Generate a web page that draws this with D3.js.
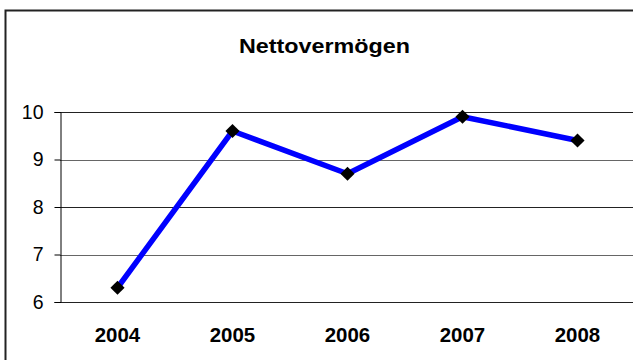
<!DOCTYPE html>
<html>
<head>
<meta charset="utf-8">
<script src="https://cdn.jsdelivr.net/npm/d3@7"></script>
<style>
  html, body { margin: 0; padding: 0; background: #fff; }
  svg { display: block; font-family: "Liberation Sans", Arial, sans-serif; }
</style>
</head>
<body>
<svg id="chart" width="633" height="360"></svg>
<script>
// Net worth per year
const years = ["2004", "2005", "2006", "2007", "2008"];
const values = [6.3, 9.6, 8.7, 9.9, 9.4];
const yTicks = [6, 7, 8, 9, 10];
const title = "Nettovermögen";

const svg = d3.select("#chart");

// outer chart frame (runs past the right and bottom edges)
svg.append("rect")
  .attr("x", 5.5).attr("y", 10.5)
  .attr("width", 700).attr("height", 400)
  .attr("fill", "#fff")
  .attr("stroke", "#222")
  .attr("stroke-width", 2);

const plot = { left: 60, right: 635, top: 112, bottom: 302 };

const x = d3.scaleBand().domain(years).range([plot.left, plot.right]).padding(0);
const y = d3.scaleLinear().domain([6, 10]).range([plot.bottom, plot.top]);

// title, slightly widened glyphs
svg.append("text")
  .attr("x", 239).attr("y", 52.7)
  .attr("font-size", 20.5)
  .attr("font-weight", "bold")
  .attr("textLength", 171)
  .attr("lengthAdjust", "spacingAndGlyphs")
  .text(title);

// horizontal gridlines
svg.append("g")
  .selectAll("line")
  .data(yTicks)
  .join("line")
  .attr("x1", plot.left).attr("x2", plot.right)
  .attr("y1", d => Math.round(y(d)) + 0.5)
  .attr("y2", d => Math.round(y(d)) + 0.5)
  .attr("stroke", (d, i) => i % 2 ? "#666" : "#222")
  .attr("stroke-width", 1);

// y axis
const yAxis = svg.append("g")
  .attr("transform", `translate(${plot.left + 0.5},0)`)
  .call(d3.axisLeft(y).tickValues(yTicks).tickSize(6).tickPadding(11).tickFormat(d3.format("d")));
yAxis.select(".domain").attr("stroke", "#000");
yAxis.selectAll(".tick line").attr("stroke", "#000");
yAxis.selectAll(".tick text")
  .attr("font-family", "Liberation Sans, Arial, sans-serif")
  .attr("font-size", 19.5)
  .attr("fill", "#000");

// x category labels
const xAxis = svg.append("g")
  .attr("transform", `translate(0,${plot.bottom})`)
  .call(d3.axisBottom(x).tickSize(0).tickPadding(0));
xAxis.select(".domain").remove();
xAxis.selectAll(".tick text")
  .attr("font-family", "Liberation Sans, Arial, sans-serif")
  .attr("font-size", 19.5)
  .attr("font-weight", "bold")
  .attr("fill", "#000")
  .attr("dy", null)
  .attr("y", 39.5)
  .attr("textLength", 45.5)
  .attr("lengthAdjust", "spacingAndGlyphs");

// data line
const cx = d => x(d) + x.bandwidth() / 2;
const pts = years.map((yr, i) => [cx(yr), y(values[i])]);

svg.append("path")
  .datum(pts)
  .attr("d", d3.line())
  .attr("fill", "none")
  .attr("stroke", "#0000ff")
  .attr("stroke-width", 5.5)
  .attr("stroke-linejoin", "round");

// diamond markers
svg.append("g")
  .selectAll("path")
  .data(pts)
  .join("path")
  .attr("transform", d => `translate(${d[0]},${d[1]}) rotate(45)`)
  .attr("d", "M-5,-5H5V5H-5Z")
  .attr("fill", "#000");
</script>
</body>
</html>
